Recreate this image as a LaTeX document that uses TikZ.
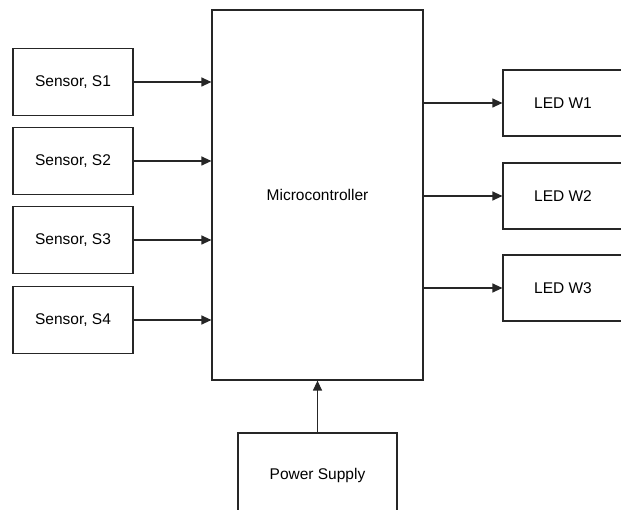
\documentclass[tikz,border=0pt]{standalone}
\usepackage{fontspec}
\setmainfont{Liberation Sans}
\usetikzlibrary{arrows.meta}
\begin{document}
\begin{tikzpicture}[x=1pt,y=-1pt,
  blk/.style={draw=black!85, line width=1.2pt, fill=white, inner sep=0pt, font=\fontsize{15.5}{18}\selectfont},
  conn/.style={draw=black!85, line width=1.2pt, -{Triangle[length=10pt,width=9pt]}}]
\clip (0,0) rectangle (621,510);
\fill[white] (0,0) rectangle (621,510);
\node[blk, minimum width=211pt, minimum height=370pt] (mc) at (317.5,195) {Microcontroller};
\node[blk, minimum width=120pt, minimum height=67pt] (s1) at (73,82) {Sensor, S1};
\node[blk, minimum width=120pt, minimum height=67pt] (s2) at (73,161) {Sensor, S2};
\node[blk, minimum width=120pt, minimum height=67pt] (s3) at (73,240) {Sensor, S3};
\node[blk, minimum width=120pt, minimum height=67pt] (s4) at (73,320) {Sensor, S4};
\node[blk, minimum width=120pt, minimum height=66pt] (w1) at (563,103) {LED W1};
\node[blk, minimum width=120pt, minimum height=66pt] (w2) at (563,196) {LED W2};
\node[blk, minimum width=120pt, minimum height=66pt] (w3) at (563,288) {LED W3};
\node[blk, minimum width=159pt, minimum height=84pt] (ps) at (317.5,475) {Power Supply};
\draw[conn] (s1.east) -- (s1.east -| mc.west);
\draw[conn] (s2.east) -- (s2.east -| mc.west);
\draw[conn] (s3.east) -- (s3.east -| mc.west);
\draw[conn] (s4.east) -- (s4.east -| mc.west);
\draw[conn] (w1.west -| mc.east) -- (w1.west);
\draw[conn] (w2.west -| mc.east) -- (w2.west);
\draw[conn] (w3.west -| mc.east) -- (w3.west);
\draw[conn] (ps.north) -- (mc.south);
\end{tikzpicture}
\end{document}
